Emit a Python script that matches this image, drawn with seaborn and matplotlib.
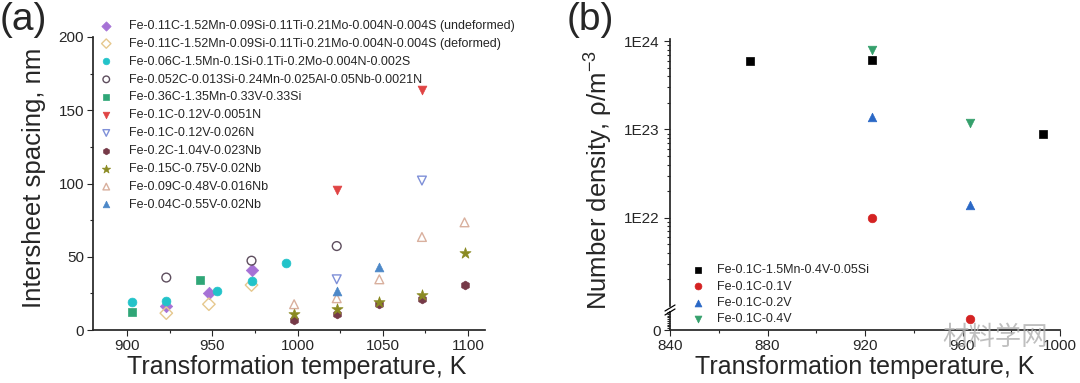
import numpy as np
import pandas as pd
import seaborn as sns
import matplotlib.pyplot as plt
from matplotlib.ticker import MultipleLocator, LogLocator, FixedLocator, NullFormatter
from matplotlib.lines import Line2D

sns.set_theme(style='ticks')
plt.rcParams['font.family'] = ['Liberation Sans', 'DejaVu Sans']
plt.rcParams['mathtext.fontset'] = 'custom'
plt.rcParams['mathtext.rm'] = 'Liberation Sans'
plt.rcParams['mathtext.it'] = 'Liberation Sans:italic'

# ---- panel (a): intersheet spacing data ----
a_names = [
    'Fe-0.11C-1.52Mn-0.09Si-0.11Ti-0.21Mo-0.004N-0.004S (undeformed)',
    'Fe-0.11C-1.52Mn-0.09Si-0.11Ti-0.21Mo-0.004N-0.004S (deformed)',
    'Fe-0.06C-1.5Mn-0.1Si-0.1Ti-0.2Mo-0.004N-0.002S',
    'Fe-0.052C-0.013Si-0.24Mn-0.025Al-0.05Nb-0.0021N',
    'Fe-0.36C-1.35Mn-0.33V-0.33Si',
    'Fe-0.1C-0.12V-0.0051N',
    'Fe-0.1C-0.12V-0.026N',
    'Fe-0.2C-1.04V-0.023Nb',
    'Fe-0.15C-0.75V-0.02Nb',
    'Fe-0.09C-0.48V-0.016Nb',
    'Fe-0.04C-0.55V-0.02Nb',
]
a_temps = [
    [923, 948, 973],
    [923, 948, 973],
    [903, 923, 953, 973, 993],
    [923, 973, 1023],
    [903, 943],
    [1023, 1073],
    [1023, 1073],
    [998, 1023, 1048, 1073, 1098],
    [998, 1023, 1048, 1073, 1098],
    [998, 1023, 1048, 1073, 1098],
    [1023, 1048],
]
a_spacing = [
    [16.6, 25.4, 41.1],
    [11.5, 17.6, 30.7],
    [19.2, 19.6, 26.3, 33.5, 45.7],
    [35.8, 47.3, 57.3],
    [12.0, 34.2],
    [95.6, 164.0],
    [34.6, 102.0],
    [6.5, 10.9, 17.6, 21.5, 30.7],
    [10.9, 14.3, 18.9, 24.0, 52.7],
    [17.6, 21.7, 34.6, 63.5, 73.5],
    [26.3, 42.7],
]
a_colors = ['#a672d6', '#e6c88e', '#22c3c9', '#5e4e5e', '#2fa677', '#e04444',
            '#7f90d8', '#763a48', '#8a8a22', '#d9b09e', '#4c88c8']
a_markers = ['D', 'D', 'o', 'o', 's', 'v', 'v', 'h', '*', '^', '^']
a_filled = [True, False, True, False, True, True, False, True, True, False, True]

# ---- panel (b): number density data ----
b_names = ['Fe-0.1C-1.5Mn-0.4V-0.05Si', 'Fe-0.1C-0.1V', 'Fe-0.1C-0.2V', 'Fe-0.1C-0.4V']
b_temps = [[873, 923, 993], [923, 963], [923, 963], [923, 963]]
b_density = [[6.0e23, 6.1e23, 9.0e22], [1.0e22, 6.0e20], [1.4e23, 1.4e22], [8.0e23, 1.2e23]]
b_colors = ['#000000', '#d42222', '#2a68c6', '#35a06c']
b_markers = ['s', 'o', '^', 'v']

fig = plt.figure(figsize=(10.8, 3.83), dpi=100)

# ---------------- panel (a) ----------------
ax = fig.add_axes([93 / 1080, 53 / 383, 392 / 1080, 293 / 383])
for name, t, v, c, m, f in zip(a_names, a_temps, a_spacing, a_colors, a_markers, a_filled):
    df = pd.DataFrame({'T': t, 'v': v})
    size = 70 if m == '*' else 40
    if f:
        sns.scatterplot(data=df, x='T', y='v', ax=ax, marker=m, s=size, color=c,
                        edgecolor=c, linewidth=0.5, label=name)
    else:
        sns.scatterplot(data=df, x='T', y='v', ax=ax, marker=m, s=size, facecolor='none',
                        edgecolor=c, linewidth=1.0, label=name)
ax.set_xlim(880, 1110)
ax.set_ylim(0, 200)
ax.xaxis.set_major_locator(MultipleLocator(50))
ax.xaxis.set_minor_locator(MultipleLocator(25))
ax.yaxis.set_major_locator(MultipleLocator(50))
ax.yaxis.set_minor_locator(MultipleLocator(25))
ax.tick_params(which='both', labelsize=11, width=0.8)
ax.tick_params(which='major', length=4, pad=2.5)
ax.tick_params(which='minor', length=2.5)
sns.despine(ax=ax)
ax.set_xlabel('Transformation temperature, K', fontsize=18)
ax.set_ylabel('Intersheet spacing, nm', fontsize=18.5)
ax.xaxis.set_label_coords(0.52, -0.085)
ax.yaxis.set_label_coords(-0.12, 0.52)
ax.legend(loc='upper left', bbox_to_anchor=(100 / 1080, 1 - 20 / 383),
          bbox_transform=fig.transFigure, frameon=False, fontsize=9,
          handlelength=1.0, handletextpad=1.3, labelspacing=0.47, borderpad=0,
          borderaxespad=0, markerscale=0.75)
fig.text(0.0, 0.995, '(a)', fontsize=28, va='top', ha='left')

# ---------------- panel (b) ----------------
axt = fig.add_axes([670 / 1080, 77 / 383, 390 / 1080, 267 / 383])
axb = fig.add_axes([670 / 1080, 53 / 383, 390 / 1080, 18 / 383], sharex=axt)
axb.patch.set_visible(False)
for ax_ in (axt, axb):
    for name, t, v, c, m in zip(b_names, b_temps, b_density, b_colors, b_markers):
        df = pd.DataFrame({'T': t, 'n': v})
        sns.scatterplot(data=df, x='T', y='n', ax=ax_, marker=m, s=38, color=c,
                        edgecolor=c, linewidth=0.5, label=name, legend=(ax_ is axt))
axt.set_yscale('log')
axt.set_ylim(1e21, 1.06e24)
axt.yaxis.set_major_locator(FixedLocator([1e22, 1e23, 1e24]))
axt.set_yticklabels(['1E22', '1E23', '1E24'])
axt.yaxis.set_minor_locator(LogLocator(base=10, subs=np.arange(2, 10)))
axt.yaxis.set_minor_formatter(NullFormatter())
axt.tick_params(axis='x', which='both', bottom=False, labelbottom=False)
axt.spines['bottom'].set_visible(False)
axt.spines['top'].set_visible(False)
axt.spines['right'].set_visible(False)
axt.tick_params(which='both', labelsize=11, width=0.8)
axt.tick_params(which='major', length=4)
axt.tick_params(which='minor', length=2.5)
axt.set_xlabel('')
axt.set_ylabel(r'Number density, ρ/m$^{-3}$', fontsize=18.5)
axt.yaxis.set_label_coords(-0.14, 0.47)

axb.set_ylim(0, 1e21)
axb.yaxis.set_major_locator(FixedLocator([0]))
axb.set_yticklabels(['0'])
axb.yaxis.set_minor_locator(MultipleLocator(1e20))
axb.set_xlim(840, 1000)
axb.xaxis.set_major_locator(MultipleLocator(40))
axb.xaxis.set_minor_locator(MultipleLocator(20))
axb.spines['top'].set_visible(False)
axb.spines['right'].set_visible(False)
axb.tick_params(which='both', labelsize=11, width=0.8)
axb.tick_params(which='major', length=4, pad=2.5)
axb.tick_params(which='minor', length=2.5)
axb.set_ylabel('')
axb.set_xlabel('Transformation temperature, K', fontsize=18)
axb.xaxis.set_label_coords(0.5, -1.38)

# axis break marks
for dy in (0, 4):
    fig.add_artist(Line2D([665 / 1080, 675 / 1080],
                          [1 - (311 + dy) / 383, 1 - (305 + dy) / 383],
                          color='black', lw=0.9))

axt.legend(loc='upper left', bbox_to_anchor=(692 / 1080, 1 - 264 / 383),
           bbox_transform=fig.transFigure, frameon=False, fontsize=9,
           handlelength=1.0, handletextpad=1.0, labelspacing=0.36, borderpad=0,
           borderaxespad=0, markerscale=0.8)
fig.text(567 / 1080, 0.995, '(b)', fontsize=28, va='top', ha='left')

# watermark
fig.text(995 / 1080, 1 - 337 / 383, '材料学网', fontsize=19, color='#b0b0b0',
         ha='center', va='center', family=['Noto Sans CJK SC', 'DejaVu Sans'], alpha=0.8)

fig.savefig('out.png', dpi=100)
